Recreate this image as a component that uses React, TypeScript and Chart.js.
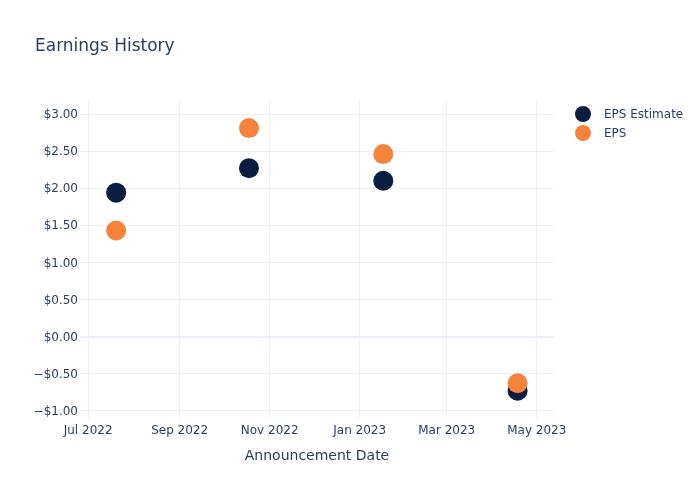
import React, { useEffect, useRef } from "react";
import { Chart, registerables } from "chart.js";

Chart.register(...registerables);

const dates = ["2022-07-20", "2022-10-18", "2023-01-17", "2023-04-18"];
const epsEstimate = [1.94, 2.27, 2.1, -0.73];
const epsActual = [1.43, 2.81, 2.46, -0.63];
const xTickDates = ["2022-07-01", "2022-09-01", "2022-11-01", "2023-01-01", "2023-03-01", "2023-05-01"];
const xTickLabels = ["Jul 2022", "Sep 2022", "Nov 2022", "Jan 2023", "Mar 2023", "May 2023"];
const yTickValues = [-1, -0.5, 0, 0.5, 1, 1.5, 2, 2.5, 3];
const seriesNames = ["EPS Estimate", "EPS"];
const seriesColors = ["#0b1e3f", "#f5843a"];

const ts = (s: string) => Date.parse(s + "T00:00:00Z");
const FONT = "'DejaVu Sans', sans-serif";
const TEXT = "#2a3f5f";
const GRID = "#ebf0f8";

const fmtMoney = (v: number) => (v < 0 ? "\u2212$" + Math.abs(v).toFixed(2) : "$" + v.toFixed(2));

export default function App() {
  const ref = useRef<HTMLCanvasElement | null>(null);
  useEffect(() => {
    if (!ref.current) return;
    const overlay = {
      id: "overlay",
      afterDraw(chart: any) {
        const ctx = chart.ctx;
        ctx.save();
        ctx.fillStyle = TEXT;
        ctx.font = "17px " + FONT;
        ctx.textBaseline = "alphabetic";
        ctx.textAlign = "left";
        ctx.fillText("Earnings History", 35, 51);
        // y tick labels
        const ys = chart.scales.y;
        ctx.font = "12px " + FONT;
        ctx.textAlign = "right";
        ctx.textBaseline = "middle";
        yTickValues.forEach((v) => {
          ctx.fillText(fmtMoney(v), 78, ys.getPixelForValue(v) + 1);
        });
        // legend
        ctx.textAlign = "left";
        chart.data.datasets.forEach((ds: any, i: number) => {
          const y = 114 + i * 19;
          ctx.beginPath();
          ctx.arc(583, y, 8, 0, Math.PI * 2);
          ctx.fillStyle = ds.backgroundColor;
          ctx.fill();
          ctx.fillStyle = TEXT;
          ctx.font = "12px " + FONT;
          ctx.fillText(ds.label, 604, y + 1);
        });
        ctx.restore();
      },
    };
    const chart = new Chart(ref.current, {
      type: "scatter",
      data: {
        datasets: [
          {
            label: seriesNames[0],
            data: dates.map((d, i) => ({ x: ts(d), y: epsEstimate[i] })),
            backgroundColor: seriesColors[0],
            borderColor: seriesColors[0],
            pointRadius: 10,
            borderWidth: 0,
            order: 2,
          },
          {
            label: seriesNames[1],
            data: dates.map((d, i) => ({ x: ts(d), y: epsActual[i] })),
            backgroundColor: seriesColors[1],
            borderColor: seriesColors[1],
            pointRadius: 10,
            borderWidth: 0,
            order: 1,
          },
        ],
      },
      options: {
        animation: false,
        responsive: false,
        maintainAspectRatio: false,
        layout: { padding: { top: 100, right: 146, left: 0, bottom: 0 } },
        plugins: { legend: { display: false }, tooltip: { enabled: false }, title: { display: false } },
        scales: {
          x: {
            type: "linear",
            min: ts("2022-06-25") + 12 * 3600000,
            max: ts("2023-05-12") + 16 * 3600000,
            afterFit: (s: any) => { s.height = 82; },
            afterBuildTicks: (s: any) => { s.ticks = xTickDates.map((d) => ({ value: ts(d) })); },
            border: { display: false },
            grid: { color: GRID, lineWidth: 1, drawTicks: false },
            ticks: {
              color: TEXT,
              font: { family: FONT, size: 12 },
              padding: 6,
              maxRotation: 0,
              autoSkip: false,
              callback: (v: any) => {
                const idx = xTickDates.findIndex((d) => ts(d) === v);
                return idx >= 0 ? xTickLabels[idx] : "";
              },
            },
            title: {
              display: true,
              text: "Announcement Date",
              color: TEXT,
              font: { family: FONT, size: 14 },
              padding: { top: 0, bottom: 35 },
            },
          },
          y: {
            min: -1.098,
            max: 3.189,
            afterFit: (s: any) => { s.width = 80; },
            afterBuildTicks: (s: any) => { s.ticks = yTickValues.map((v) => ({ value: v })); },
            border: { display: false },
            grid: {
              drawTicks: false,
              color: GRID,
              lineWidth: (c: any) => (c.tick && c.tick.value === 0 ? 2 : 1),
            },
            ticks: {
              display: false,
            },
          },
        },
      },
      plugins: [overlay],
    } as any);
    return () => chart.destroy();
  }, []);
  return (
    <div style={{ position: "absolute", left: 0, top: 0, width: 700, height: 500, background: "#fff" }}>
      <canvas ref={ref} width={700} height={500} style={{ width: 700, height: 500 }} />
    </div>
  );
}
